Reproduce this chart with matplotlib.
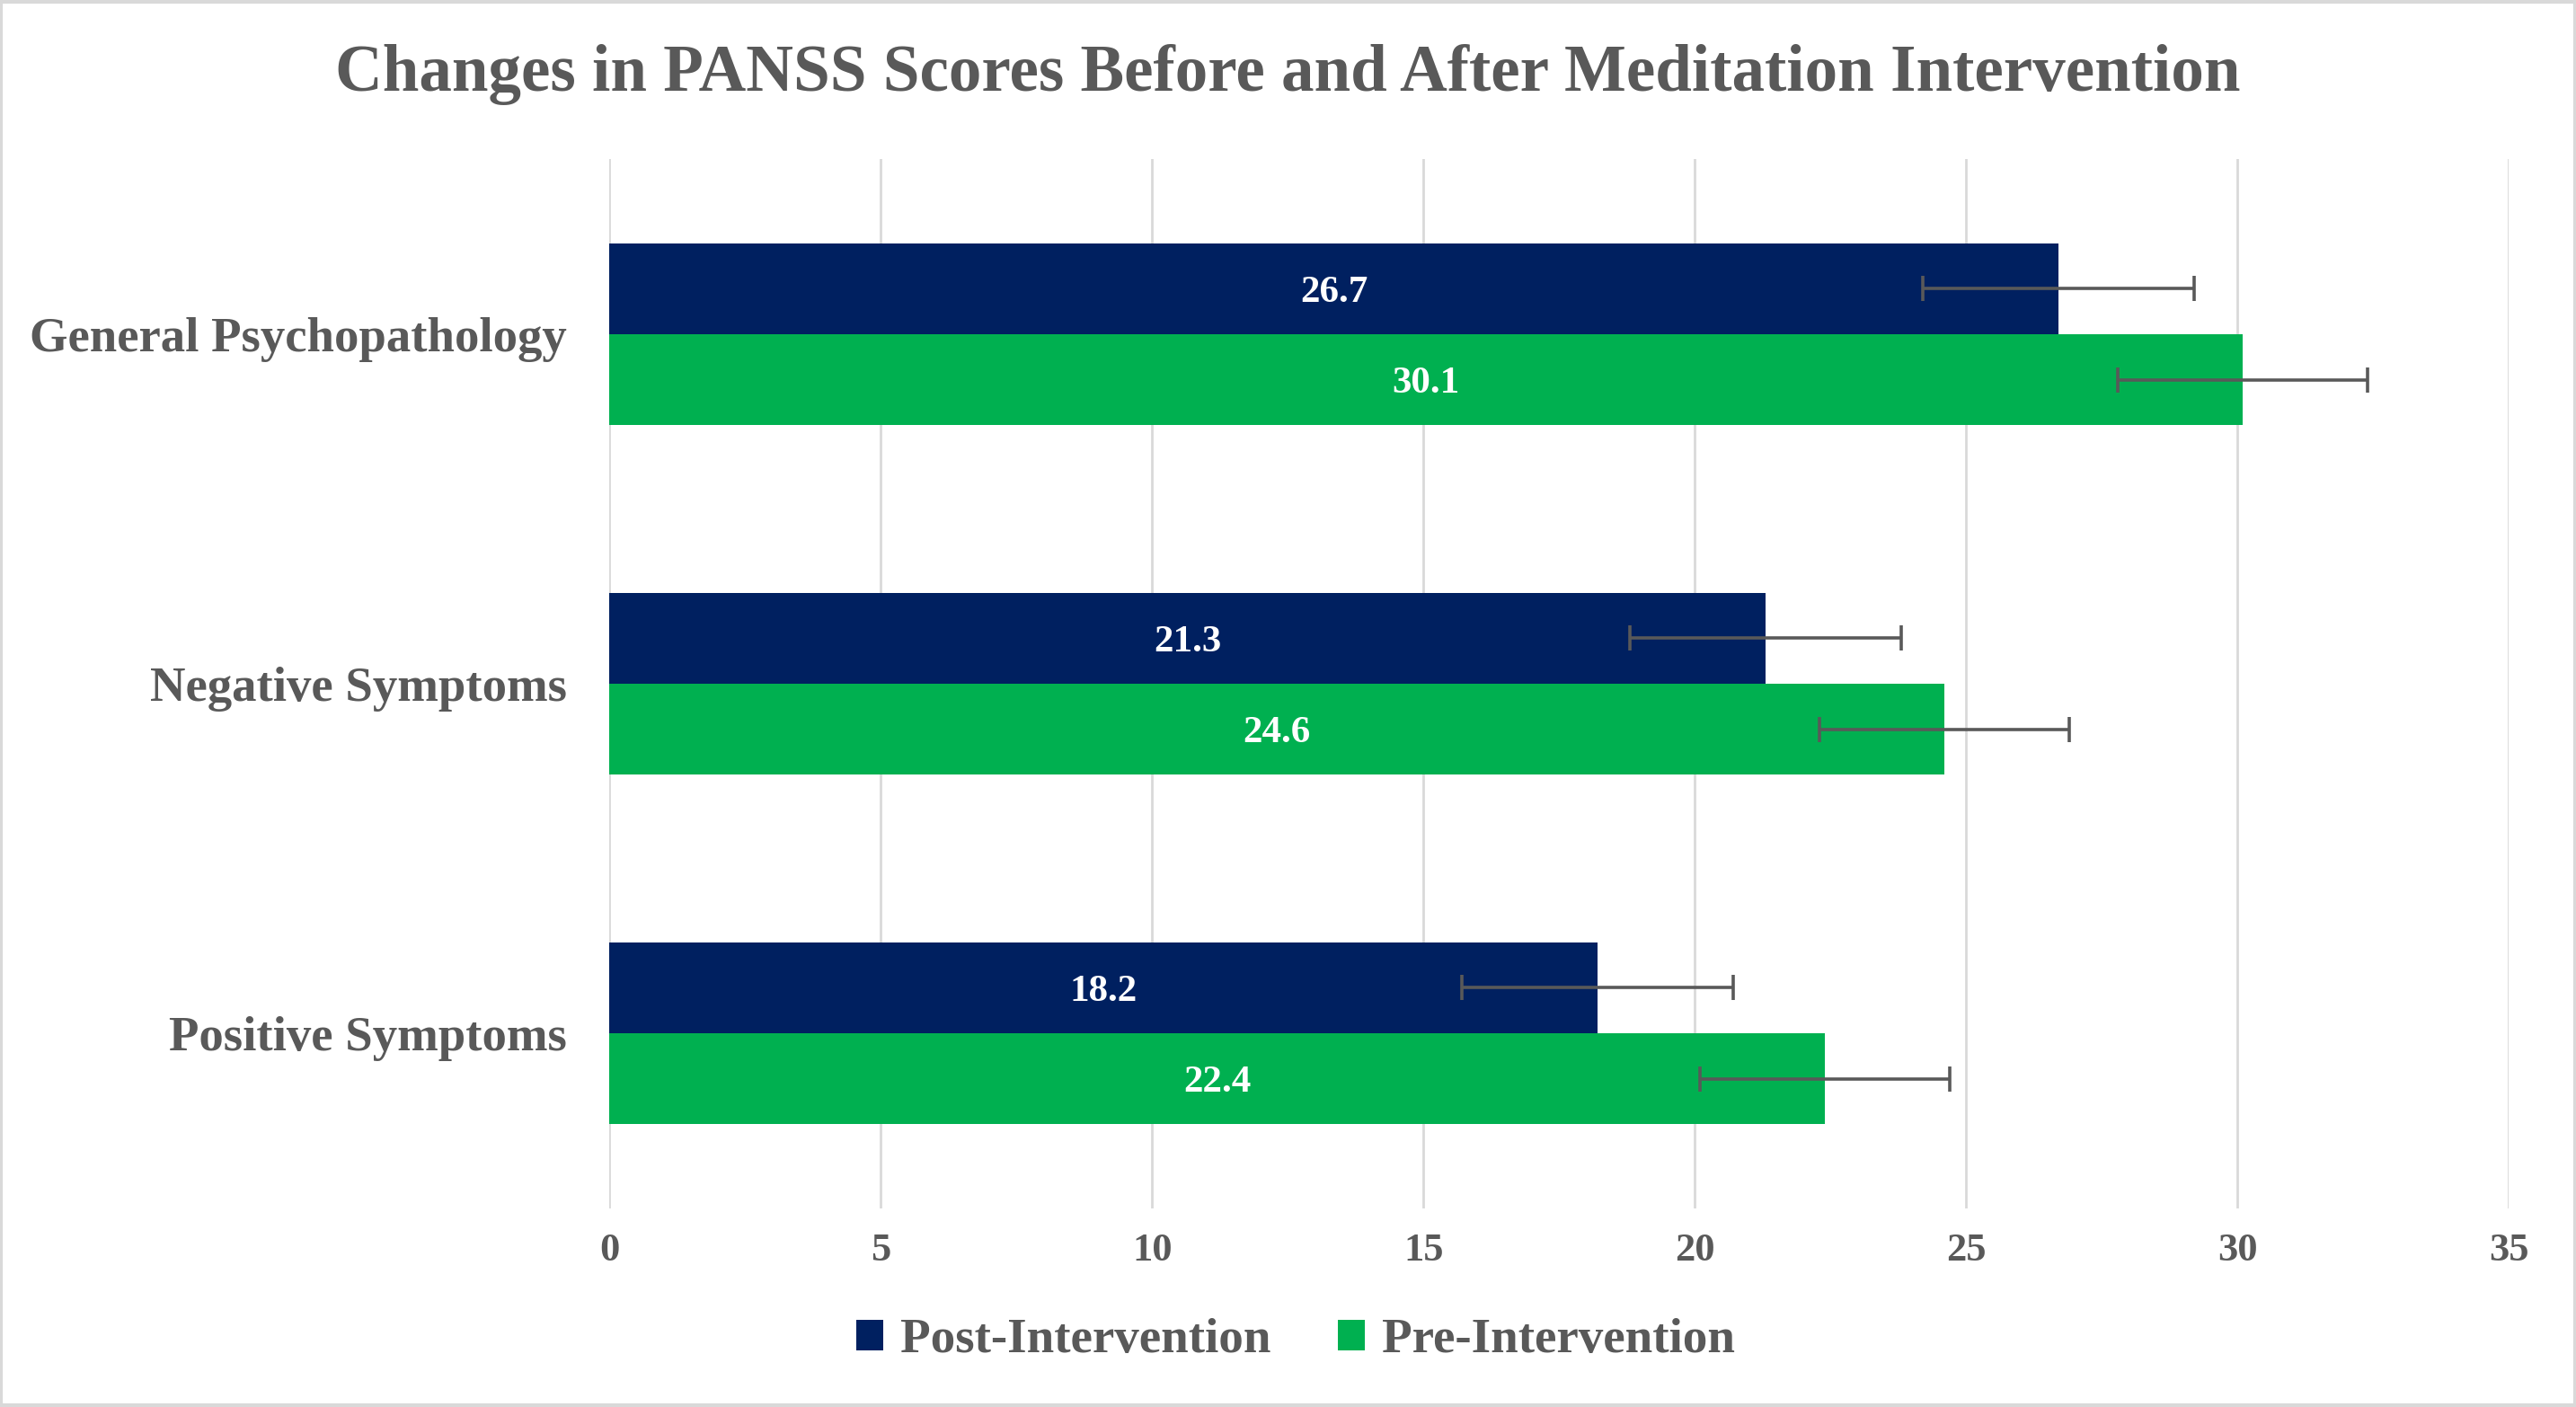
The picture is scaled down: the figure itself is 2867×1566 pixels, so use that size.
import numpy as np
import matplotlib.pyplot as plt
from matplotlib.patches import Rectangle

# Datos del gráfico
categorias = ['Positive Symptoms', 'Negative Symptoms', 'General Psychopathology']
post = [18.2, 21.3, 26.7]
pre = [22.4, 24.6, 30.1]
post_err = [2.5, 2.5, 2.5]
pre_err = [2.3, 2.3, 2.3]
xticks = [0, 5, 10, 15, 20, 25, 30, 35]

gris = '#595959'
azul = '#002060'
verde = '#00B050'

plt.rcParams['font.family'] = ['Liberation Serif', 'DejaVu Serif']
plt.rcParams['font.weight'] = 'bold'

fig = plt.figure(figsize=(14.335, 7.83), dpi=200)
ax = fig.add_axes([0.2366, 0.1414, 0.9739 - 0.2366, 0.8867 - 0.1414])

y = np.arange(len(categorias))
h = 0.26

# Barras
ax.barh(y + h / 2, post, height=h, color=azul, label='Post-Intervention', zorder=2)
ax.barh(y - h / 2, pre, height=h, color=verde, label='Pre-Intervention', zorder=2)

# Barras de error
ax.errorbar(post, y + h / 2, xerr=post_err, fmt='none', ecolor=gris,
            elinewidth=1.3, capsize=5, capthick=1.3, zorder=3)
ax.errorbar(pre, y - h / 2, xerr=pre_err, fmt='none', ecolor=gris,
            elinewidth=1.3, capsize=5, capthick=1.3, zorder=3)

# Etiquetas de datos
for yi, v in zip(y + h / 2, post):
    ax.text(v / 2, yi, f'{v:.1f}', color='white', fontsize=15.5, fontweight='bold',
            ha='center', va='center_baseline', zorder=4)
for yi, v in zip(y - h / 2, pre):
    ax.text(v / 2, yi, f'{v:.1f}', color='white', fontsize=15.5, fontweight='bold',
            ha='center', va='center_baseline', zorder=4)

ax.set_xlim(0, 35)
ax.set_ylim(-0.5, 2.5)
ax.set_xticks(xticks)
ax.set_xticklabels([str(t) for t in xticks], fontsize=16, color=gris, fontweight='bold')
ax.set_yticks(y)
ax.set_yticklabels(categorias, fontsize=19.7, color=gris, fontweight='bold')
ax.tick_params(axis='x', length=0, pad=10)
ax.tick_params(axis='y', length=0, pad=17)
ax.grid(axis='x', color='#D9D9D9', linewidth=1.0, zorder=0)
ax.set_axisbelow(True)
for s in ax.spines.values():
    s.set_visible(False)

fig.text(0.5, 0.947, 'Changes in PANSS Scores Before and After Meditation Intervention',
         ha='center', va='center', fontsize=26.3, color=gris, fontweight='bold')

fig.legend(loc='center', bbox_to_anchor=(0.503, 0.047), ncol=2, frameon=False,
           fontsize=19.8, labelcolor=gris, handlelength=0.55, handleheight=0.55,
           handletextpad=0.35, columnspacing=1.35)

# Borde de la figura
fig.patches.append(Rectangle((0.0005, 0.001), 0.999, 0.998, transform=fig.transFigure,
                             fill=False, edgecolor='#D9D9D9', linewidth=1.5))

fig.savefig('out.png', dpi=200)
